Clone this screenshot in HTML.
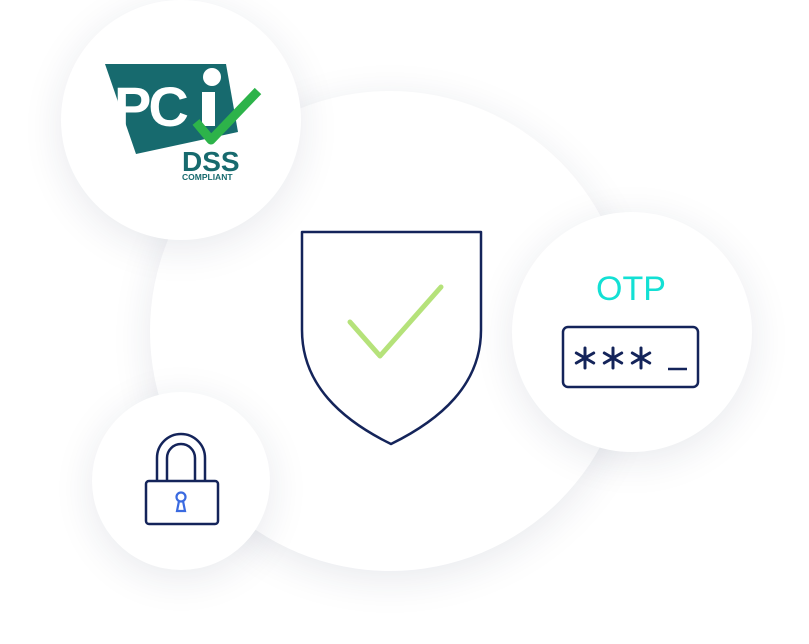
<!DOCTYPE html>
<html><head><style>
html,body{margin:0;padding:0;background:#fff;}
body{width:809px;height:644px;position:relative;overflow:hidden;font-family:"Liberation Sans",sans-serif;}
.c{position:absolute;border-radius:50%;background:#fff;box-shadow:0 8px 40px rgba(30,40,80,0.10);}
</style></head><body>
<div class="c" style="left:150px;top:91px;width:480px;height:480px;"></div>
<div class="c" style="left:61px;top:0px;width:240px;height:240px;"></div>
<div class="c" style="left:512px;top:212px;width:240px;height:240px;"></div>
<div class="c" style="left:92px;top:392px;width:178px;height:178px;"></div>
<svg width="809" height="644" style="position:absolute;left:0;top:0">
  <defs>
    <g id="ast" stroke="#14245a" stroke-width="3" stroke-linecap="round">
      <line x1="0" y1="-10" x2="0" y2="10"/>
      <line x1="-8.7" y1="-5" x2="8.7" y2="5"/>
      <line x1="-8.7" y1="5" x2="8.7" y2="-5"/>
    </g>
  </defs>
  <!-- shield -->
  <path d="M302,232 L481,232 L481,330 C481,385 440,420 391,444 C342,420 302,385 302,330 Z" fill="none" stroke="#14245a" stroke-width="2.5" stroke-linejoin="round"/>
  <path d="M350,322 L380,356 L441,287" fill="none" stroke="#b5e27a" stroke-width="5" stroke-linecap="round" stroke-linejoin="round"/>
  <!-- PCI -->
  <path d="M105,64 L226,64 L238,132 L136,154 Z" fill="#176a6e"/>
  <text x="114" y="126" font-size="56" font-weight="bold" fill="#fff" letter-spacing="-3">PC</text>
  <rect x="202" y="92" width="13" height="34" fill="#fff"/>
  <circle cx="212" cy="77" r="9" fill="#fff"/>
  <path d="M196,122 L211,140 L258,91" fill="none" stroke="#2db34a" stroke-width="9" stroke-linejoin="round"/>
  <text x="182" y="171" font-size="28" font-weight="bold" fill="#176a6e">DSS</text>
  <text x="182" y="180" font-size="8.5" font-weight="bold" fill="#176a6e">COMPLIANT</text>
  <!-- OTP -->
  <text x="631" y="300" font-size="34" fill="#13e0d4" text-anchor="middle">OTP</text>
  <rect x="563" y="327" width="135" height="60" rx="5" fill="none" stroke="#14245a" stroke-width="2.5"/>
  <use href="#ast" x="585" y="358"/>
  <use href="#ast" x="613" y="358"/>
  <use href="#ast" x="641" y="358"/>
  <line x1="668" y1="369" x2="687" y2="369" stroke="#14245a" stroke-width="2.5"/>
  <!-- lock -->
  <path d="M157,482 L157,458 A24,24 0 0 1 205,458 L205,482" fill="none" stroke="#14245a" stroke-width="2.5"/>
  <path d="M167,482 L167,458 A14,14 0 0 1 195,458 L195,482" fill="none" stroke="#14245a" stroke-width="2.5"/>
  <rect x="146" y="481" width="72" height="43" rx="3" fill="#fff" stroke="#14245a" stroke-width="2.5"/>
  <circle cx="181" cy="497" r="4.5" fill="none" stroke="#3a6ae0" stroke-width="2.2"/>
  <path d="M179,501 L177,511 L185,511 L183,501" fill="none" stroke="#3a6ae0" stroke-width="2.2"/>
</svg>
</body></html>
